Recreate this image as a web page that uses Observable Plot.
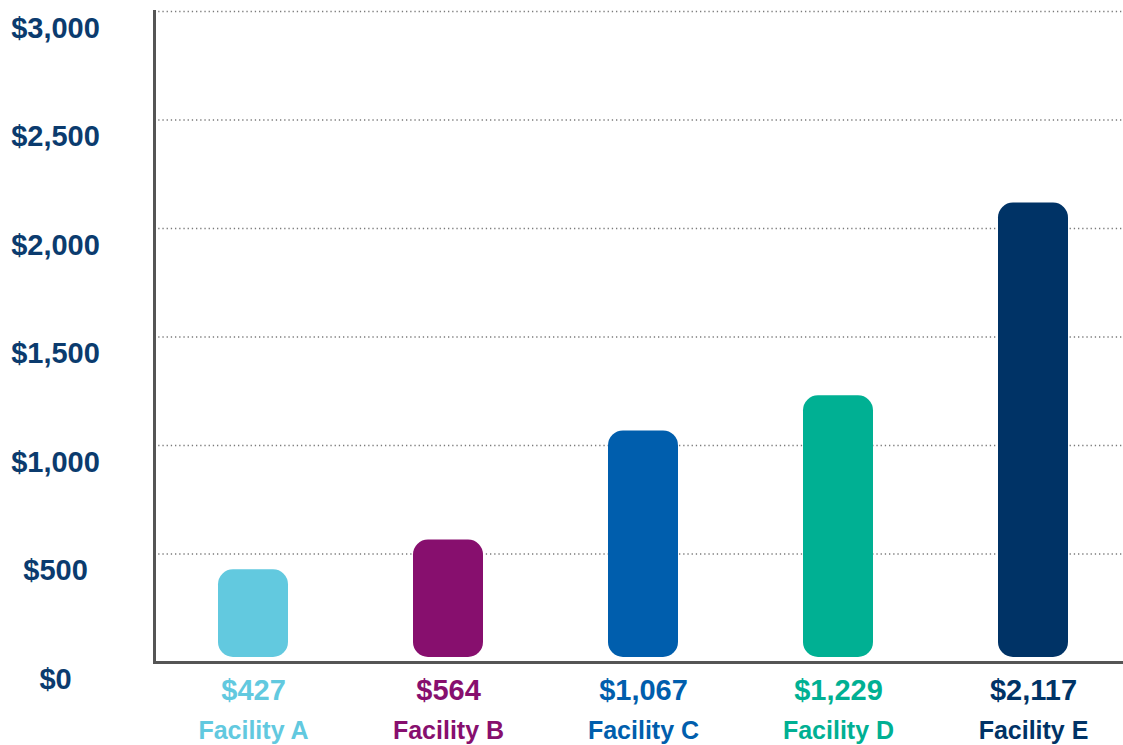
<!DOCTYPE html>
<html>
<head>
<meta charset="utf-8">
<script src="https://cdn.jsdelivr.net/npm/d3@7"></script>
<script src="https://cdn.jsdelivr.net/npm/@observablehq/plot@0.6"></script>
<style>
  html, body { margin: 0; padding: 0; background: #fff; }
  #chart svg { display: block; font-family: "Liberation Sans", Arial, sans-serif; }
</style>
</head>
<body>
<div id="chart"></div>
<script>
const facilities = ["Facility A", "Facility B", "Facility C", "Facility D", "Facility E"];
const costs = [427, 564, 1067, 1229, 2117];
const colors = ["#62C9DF", "#870F6E", "#005EAD", "#00B093", "#003366"];
const yTicks = [0, 500, 1000, 1500, 2000, 2500, 3000];
const gridTicks = [500, 1000, 1500, 2000, 2500, 3000];

const data = facilities.map((name, i) => ({name, value: costs[i]}));
const money = d3.format("$,");

const chart = Plot.plot({
  width: 1123,
  height: 745,
  marginTop: 11,
  marginBottom: 83,
  marginLeft: 154,
  marginRight: 0,
  style: {fontFamily: "'Liberation Sans', Arial, sans-serif", background: "#fff"},
  x: {domain: facilities, paddingInner: 0.642, paddingOuter: 0.3, align: 0.533, axis: null},
  y: {domain: [0, 3000], axis: null},
  color: {domain: facilities, range: colors},
  marks: [
    Plot.ruleY(gridTicks, {stroke: "#7a7a7a", strokeWidth: 1.3, strokeDasharray: "1.3,2.9"}),
    Plot.barY(data, {x: "name", y: "value", fill: "name", rx: 15, insetBottom: 5}),
    Plot.ruleY([0], {stroke: "#555555", strokeWidth: 3}),
    Plot.frame({anchor: "left", stroke: "#555555", strokeWidth: 3}),
    Plot.text(yTicks, {
      y: d => d, text: d => money(d), frameAnchor: "left", dx: -99, dy: 17,
      textAnchor: "middle", fill: "#0B3B6E", fontSize: 29, fontWeight: "bold"
    }),
    Plot.text(data, {
      x: "name", y: 0, text: d => money(d.value), fill: "name", dy: 28,
      fontSize: 29, fontWeight: "bold", lineAnchor: "middle"
    }),
    Plot.text(data, {
      x: "name", y: 0, text: "name", fill: "name", dy: 68.5,
      fontSize: 25, fontWeight: "bold", lineAnchor: "middle"
    })
  ]
});
document.getElementById("chart").appendChild(chart);
</script>
</body>
</html>
